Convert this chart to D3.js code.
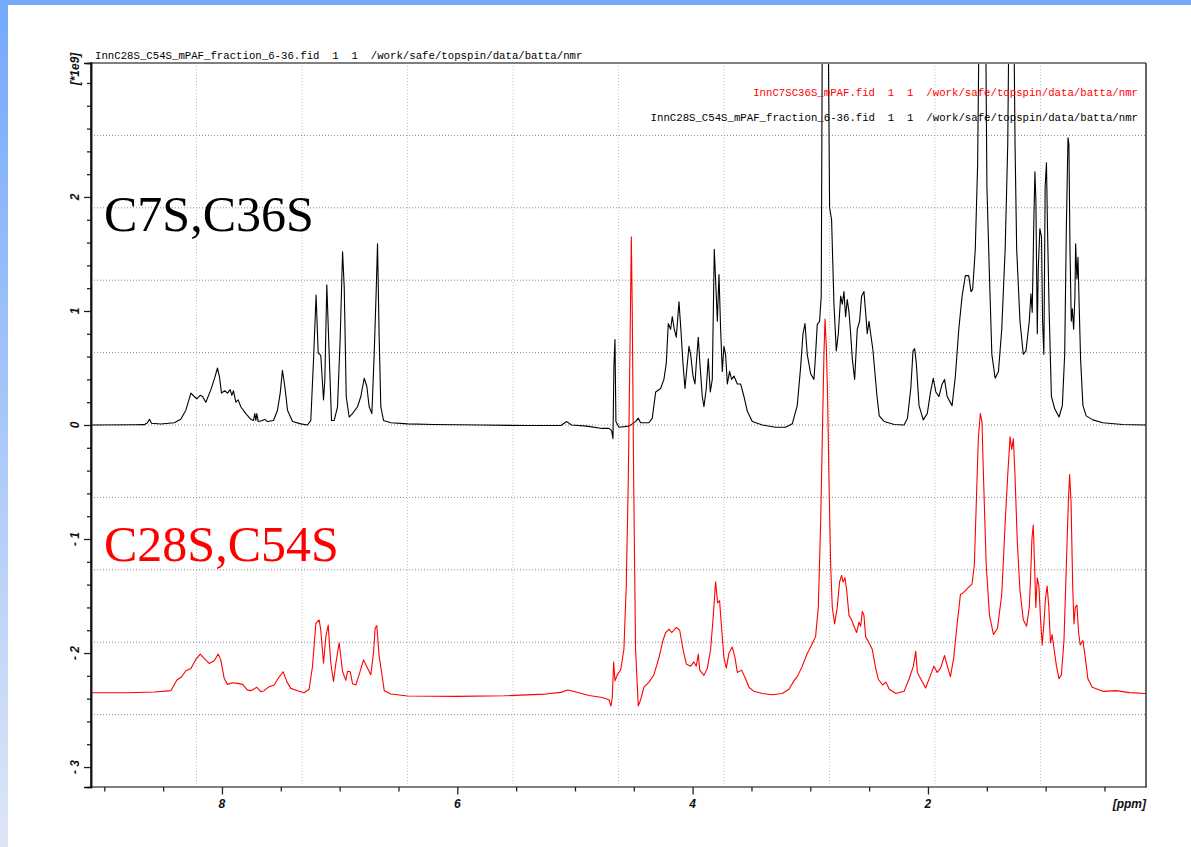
<!DOCTYPE html>
<html><head><meta charset="utf-8">
<script src="https://cdn.jsdelivr.net/npm/d3@7"></script>
<style>
html,body{margin:0;padding:0;background:#fff;overflow:hidden;}
svg{display:block;}
</style></head><body>
<svg id="c" width="1191" height="847"></svg>
<script>
// ---------- data ----------
const xDomain = [9.113, 0.147];          // ppm, left -> right
const yDomain = [-3.175, 3.175];         // intensity [*1e9]
const xMajorTicks = [8, 6, 4, 2];
const xMinorTicks = [9, 8.5, 7.5, 7, 6.5, 5.5, 5, 4.5, 3.5, 3, 2.5, 1.5, 1, 0.5];
const yMajorTicks = [-3, -2, -1, 0, 1, 2];
const yTickLabels = ["- 3", "- 2", "- 1", "0", "1", "2"];
const yUnitLabel = "[*1e9]";
const xUnitLabel = "[ppm]";
const headerText = "InnC28S_C54S_mPAF_fraction_6-36.fid  1  1  /work/safe/topspin/data/batta/nmr";
const legendRed = "InnC7SC36S_mPAF.fid  1  1  /work/safe/topspin/data/batta/nmr";
const legendBlack = "InnC28S_C54S_mPAF_fraction_6-36.fid  1  1  /work/safe/topspin/data/batta/nmr";
const labelBlack = "C7S,C36S";
const labelRed = "C28S,C54S";

// black spectrum [ppm, intensity*1e9]
const blackSpectrum = [
[9.113,0],[9.086,0],[8.75,0.002],[8.661,0.003],[8.633,0.02],[8.616,0.05],[8.599,0.015],[8.52,0.009],[8.406,0.02],[8.35,0.05],[8.307,0.13],[8.264,0.28],[8.236,0.25],[8.213,0.23],[8.185,0.26],[8.165,0.25],[8.137,0.2],[8.094,0.31],[8.06,0.42],[8.038,0.5],[8.021,0.42],[8.004,0.28],[7.976,0.3],[7.953,0.28],[7.93,0.31],[7.916,0.26],[7.902,0.3],[7.882,0.2],[7.862,0.22],[7.84,0.16],[7.797,0.1],[7.755,0.05],[7.732,0.04],[7.721,0.1],[7.712,0.04],[7.704,0.1],[7.692,0.03],[7.655,0.04],[7.636,0.05],[7.613,0.03],[7.562,0.04],[7.528,0.13],[7.505,0.28],[7.486,0.48],[7.466,0.34],[7.443,0.13],[7.4,0.03],[7.33,0.01],[7.273,0],[7.245,0.04],[7.222,0.57],[7.2,1.14],[7.182,0.63],[7.16,0.61],[7.137,0.22],[7.126,0.39],[7.109,1.23],[7.089,0.63],[7.069,0.04],[7.046,0.04],[7.018,0.16],[6.995,0.77],[6.975,1.52],[6.961,1.21],[6.944,0.25],[6.919,0.07],[6.891,0.1],[6.848,0.16],[6.82,0.25],[6.791,0.41],[6.769,0.34],[6.749,0.16],[6.726,0.1],[6.706,0.63],[6.69,1.15],[6.678,1.59],[6.664,0.77],[6.65,0.16],[6.627,0.04],[6.565,0.02],[6.423,0.01],[6.2,0.005],[5.8,0],[5.4,-0.005],[5.12,-0.005],[5.07,0.03],[5.03,0],[4.9,-0.01],[4.768,-0.03],
[4.711,-0.03],[4.688,-0.05],[4.677,-0.12],[4.669,0.51],[4.66,0.75],[4.652,0.03],[4.626,-0.02],[4.541,-0.01],[4.485,0.03],[4.462,0.06],[4.442,0.02],[4.371,0.02],[4.343,0.06],[4.314,0.29],[4.272,0.32],[4.244,0.4],[4.224,0.54],[4.207,0.89],[4.187,0.84],[4.173,0.95],[4.156,0.84],[4.139,0.77],[4.116,1.08],[4.1,0.84],[4.082,0.54],[4.065,0.32],[4.045,0.54],[4.031,0.69],[4.017,0.62],[3.997,0.43],[3.98,0.36],[3.969,0.54],[3.952,0.77],[3.938,0.54],[3.918,0.25],[3.904,0.16],[3.884,0.32],[3.867,0.58],[3.85,0.29],[3.833,0.4],[3.816,1.54],[3.805,1.28],[3.79,0.91],[3.776,1.32],[3.762,0.84],[3.748,0.47],[3.734,0.69],[3.72,0.62],[3.705,0.36],[3.686,0.47],[3.669,0.4],[3.649,0.43],[3.62,0.36],[3.592,0.36],[3.564,0.25],[3.535,0.12],[3.493,0.03],[3.408,0],[3.295,-0.02],[3.21,-0.02],[3.153,0.01],[3.111,0.17],[3.082,0.51],[3.062,0.8],[3.045,0.89],[3.026,0.62],[2.997,0.45],[2.969,0.4],[2.955,0.62],[2.941,0.88],[2.921,0.91],[2.907,1.13],[2.898,3.5],[2.885,5.2],[2.872,5.5],[2.86,5.0],[2.847,3.4],[2.836,1.91],[2.819,1.8],[2.799,1.06],[2.779,0.65],[2.762,0.8],[2.742,1.13],[2.728,1.06],[2.714,1.17],[2.7,0.95],[2.686,1.1],[2.671,0.99],[2.657,0.8],[2.643,0.58],[2.623,0.4],[2.601,0.84],[2.581,0.91],[2.564,1.13],[2.544,1.17],[2.53,0.99],[2.516,0.8],[2.501,0.91],[2.487,0.8],[2.468,0.66],[2.45,0.45],[2.433,0.25],[2.414,0.08],[2.371,0.03],[2.287,0.005],[2.203,0],[2.174,0.06],[2.146,0.32],[2.127,0.65],[2.113,0.67],[2.099,0.54],[2.076,0.17],[2.04,0.045],[2.006,0.1],[1.978,0.29],[1.955,0.41],[1.933,0.29],[1.907,0.25],[1.879,0.36],[1.859,0.4],[1.837,0.25],[1.795,0.17],[1.767,0.43],[1.738,0.84],[1.71,1.13],[1.682,1.31],[1.654,1.31],[1.634,1.17],[1.62,1.19],[1.598,1.54],[1.578,2.28],[1.561,4.0],[1.54,5.0],[1.513,4.0],[1.499,2.09],[1.479,1.36],[1.457,0.62],[1.429,0.41],[1.401,0.47],[1.373,0.84],[1.344,1.54],[1.322,2.46],[1.308,4.0],[1.29,5.0],[1.274,4.0],[1.26,2.46],[1.246,1.54],[1.218,0.91],[1.19,0.62],[1.167,0.65],[1.139,0.91],[1.125,1.15],[1.114,0.99],[1.1,1.8],[1.091,2.22],[1.083,1.98],[1.071,0.8],[1.063,1.36],[1.049,1.72],[1.035,1.65],[1.026,0.91],[1.015,0.62],[1.004,2.09],[0.993,2.3],[0.984,1.72],[0.97,0.99],[0.951,0.25],[0.922,0.14],[0.886,0.07],[0.858,0.17],[0.838,0.62],[0.824,1.72],[0.81,2.52],[0.802,2.46],[0.793,1.54],[0.782,0.91],[0.773,1.02],[0.762,0.84],[0.751,1.13],[0.745,1.59],[0.734,1.28],[0.725,1.47],[0.717,1.13],[0.703,0.58],[0.683,0.17],[0.655,0.08],[0.599,0.045],[0.514,0.02],[0.346,0.005],[0.147,0]
];

// red spectrum [ppm, intensity*1e9] (as displayed, with vertical offset)
const redSpectrum = [
[9.113,-2.348],[9.086,-2.348],[8.8,-2.348],[8.576,-2.342],[8.434,-2.33],[8.383,-2.237],[8.344,-2.21],[8.307,-2.155],[8.264,-2.135],[8.222,-2.056],[8.185,-2.009],[8.151,-2.047],[8.109,-2.091],[8.066,-2.067],[8.032,-2.009],[8.01,-2.06],[7.981,-2.222],[7.953,-2.275],[7.91,-2.26],[7.868,-2.266],[7.825,-2.275],[7.783,-2.325],[7.755,-2.33],[7.704,-2.301],[7.67,-2.339],[7.641,-2.33],[7.599,-2.295],[7.556,-2.281],[7.522,-2.222],[7.48,-2.164],[7.449,-2.251],[7.415,-2.31],[7.358,-2.33],[7.301,-2.348],[7.259,-2.318],[7.231,-2.12],[7.202,-1.74],[7.174,-1.71],[7.16,-1.8],[7.137,-2.09],[7.117,-1.857],[7.097,-1.754],[7.075,-2.09],[7.052,-2.25],[7.032,-2.09],[7.018,-2.0],[7.004,-1.91],[6.99,-2.03],[6.976,-2.16],[6.947,-2.24],[6.933,-2.16],[6.91,-2.164],[6.89,-2.27],[6.862,-2.28],[6.834,-2.19],[6.797,-2.06],[6.769,-2.12],[6.735,-2.19],[6.712,-2.0],[6.698,-1.78],[6.684,-1.76],[6.664,-2.03],[6.644,-2.164],[6.621,-2.33],[6.565,-2.36],[6.423,-2.377],[6.0,-2.38],[5.6,-2.375],[5.25,-2.36],[5.12,-2.345],[5.06,-2.325],[5.0,-2.34],[4.881,-2.373],[4.768,-2.39],[4.711,-2.41],[4.694,-2.465],[4.683,-2.39],[4.671,-2.078],[4.66,-2.244],[4.64,-2.19],[4.612,-2.15],[4.584,-1.967],[4.564,-1.41],[4.547,-0.49],[4.533,0.62],[4.521,1.65],[4.513,0.99],[4.501,-0.49],[4.485,-1.967],[4.462,-2.465],[4.442,-2.41],[4.414,-2.3],[4.371,-2.255],[4.329,-2.19],[4.286,-2.04],[4.252,-1.89],[4.229,-1.82],[4.201,-1.79],[4.178,-1.82],[4.139,-1.775],[4.11,-1.8],[4.082,-1.967],[4.054,-2.096],[4.017,-2.115],[3.989,-2.078],[3.969,-2.115],[3.952,-2.01],[3.94,-2.15],[3.904,-2.196],[3.875,-2.133],[3.847,-1.967],[3.827,-1.708],[3.805,-1.376],[3.788,-1.56],[3.771,-1.54],[3.754,-1.78],[3.734,-2.04],[3.714,-2.133],[3.691,-2.0],[3.663,-1.948],[3.64,-2.04],[3.62,-2.17],[3.584,-2.15],[3.55,-2.226],[3.521,-2.3],[3.479,-2.336],[3.408,-2.355],[3.323,-2.366],[3.238,-2.355],[3.181,-2.318],[3.139,-2.244],[3.111,-2.207],[3.068,-2.115],[3.026,-2.004],[2.989,-1.93],[2.955,-1.856],[2.932,-1.6],[2.912,-0.86],[2.898,-0.12],[2.884,0.62],[2.875,0.93],[2.864,0.69],[2.853,0.25],[2.841,-0.49],[2.827,-1.23],[2.813,-1.6],[2.793,-1.745],[2.771,-1.6],[2.751,-1.376],[2.734,-1.32],[2.722,-1.376],[2.705,-1.34],[2.691,-1.45],[2.671,-1.67],[2.649,-1.708],[2.629,-1.765],[2.606,-1.82],[2.586,-1.73],[2.572,-1.765],[2.558,-1.635],[2.544,-1.67],[2.53,-1.856],[2.501,-1.91],[2.473,-1.97],[2.445,-2.13],[2.422,-2.23],[2.386,-2.28],[2.357,-2.255],[2.329,-2.318],[2.273,-2.355],[2.203,-2.336],[2.16,-2.226],[2.124,-2.115],[2.104,-1.985],[2.09,-2.17],[2.062,-2.226],[2.02,-2.307],[1.983,-2.207],[1.949,-2.115],[1.921,-2.17],[1.893,-2.133],[1.859,-2.022],[1.831,-2.133],[1.809,-2.207],[1.781,-2.04],[1.752,-1.745],[1.724,-1.487],[1.696,-1.468],[1.662,-1.43],[1.626,-1.395],[1.606,-1.23],[1.589,-0.675],[1.572,-0.12],[1.555,0.1],[1.541,0.027],[1.527,-0.49],[1.505,-1.23],[1.477,-1.67],[1.443,-1.838],[1.409,-1.782],[1.373,-1.487],[1.344,-0.86],[1.322,-0.435],[1.302,-0.103],[1.288,-0.214],[1.274,-0.12],[1.26,-0.453],[1.24,-1.044],[1.218,-1.45],[1.19,-1.708],[1.162,-1.765],[1.139,-1.6],[1.128,-1.34],[1.117,-1.007],[1.105,-0.878],[1.094,-1.23],[1.083,-1.6],[1.071,-1.34],[1.057,-1.413],[1.043,-1.708],[1.029,-1.93],[1.015,-1.745],[1.001,-1.52],[0.987,-1.413],[0.973,-1.6],[0.959,-1.91],[0.945,-1.838],[0.928,-1.967],[0.908,-2.115],[0.886,-2.226],[0.866,-2.19],[0.844,-1.89],[0.824,-1.23],[0.807,-0.675],[0.796,-0.435],[0.784,-0.675],[0.77,-1.413],[0.759,-1.745],[0.748,-1.6],[0.734,-1.58],[0.72,-1.82],[0.706,-1.93],[0.683,-1.89],[0.663,-2.04],[0.641,-2.226],[0.604,-2.3],[0.514,-2.336],[0.402,-2.33],[0.289,-2.347],[0.147,-2.355]
];

// ---------- drawing ----------
const W = 1191, H = 847;
const frame = {left: 91, right: 1146, top: 63, bottom: 787};
const svg = d3.select("#c");

// slide background
const defs = svg.append("defs");
const lg = defs.append("linearGradient").attr("id","lbar").attr("x1",0).attr("y1",0).attr("x2",0).attr("y2",1);
lg.append("stop").attr("offset","0%").attr("stop-color","#74a9fb");
lg.append("stop").attr("offset","100%").attr("stop-color","#dde6f6");
svg.append("rect").attr("width",W).attr("height",H).attr("fill","#fff");
svg.append("rect").attr("x",0).attr("y",0).attr("width",8).attr("height",H).attr("fill","url(#lbar)");
svg.append("rect").attr("x",0).attr("y",0).attr("width",W).attr("height",5).attr("fill","#74a9fb");

const x = d3.scaleLinear().domain(xDomain).range([frame.left, frame.right]);
const y = d3.scaleLinear().domain(yDomain).range([frame.bottom, frame.top]);

defs.append("clipPath").attr("id","plotclip").append("rect")
  .attr("x",frame.left).attr("y",frame.top)
  .attr("width",frame.right-frame.left).attr("height",frame.bottom-frame.top);

// grid: 10 divisions of the frame
const gridX = d3.range(1,10).map(i => xDomain[0] + (xDomain[1]-xDomain[0])*i/10);
const gridY = d3.range(1,10).map(i => yDomain[0] + (yDomain[1]-yDomain[0])*i/10);
svg.append("g").selectAll("line").data(gridX).join("line")
  .attr("x1",d=>x(d)).attr("x2",d=>x(d)).attr("y1",frame.top).attr("y2",frame.bottom)
  .attr("stroke","#c4c4c4").attr("stroke-width",1).attr("stroke-dasharray","1,2");
svg.append("g").selectAll("line").data(gridY).join("line")
  .attr("x1",frame.left).attr("x2",frame.right).attr("y1",d=>y(d)).attr("y2",d=>y(d))
  .attr("stroke","#8a8a8a").attr("stroke-width",1).attr("stroke-dasharray","1,2");

// spectra
const line = d3.line().x(d=>x(d[0])).y(d=>y(d[1]));
const plot = svg.append("g").attr("clip-path","url(#plotclip)");
plot.append("path").datum(blackSpectrum).attr("d",line)
  .attr("fill","none").attr("stroke","#000").attr("stroke-width",1.1).attr("stroke-linejoin","round");
plot.append("path").datum(redSpectrum).attr("d",line)
  .attr("fill","none").attr("stroke","#ff0000").attr("stroke-width",1.1).attr("stroke-linejoin","round");

// frame
svg.append("line").attr("x1",frame.left).attr("x2",frame.right).attr("y1",frame.top).attr("y2",frame.top)
  .attr("stroke","#7f7f7f").attr("stroke-width",2);
svg.append("line").attr("x1",frame.left).attr("x2",frame.right+1).attr("y1",frame.bottom).attr("y2",frame.bottom)
  .attr("stroke","#7f7f7f").attr("stroke-width",2);
svg.append("line").attr("x1",frame.right).attr("x2",frame.right).attr("y1",frame.top).attr("y2",frame.bottom)
  .attr("stroke","#333").attr("stroke-width",1.5);

// y axis (ticks outward to the left)
const yMinor = d3.range(-30,31,2).map(v=>v/10).filter(v=>!yMajorTicks.includes(v));
const yAxisMinor = d3.axisLeft(y).tickValues(yMinor).tickSize(4).tickFormat("");
const yAxisMajor = d3.axisLeft(y).tickValues(yMajorTicks).tickSize(7).tickFormat("");
const gy1 = svg.append("g").attr("transform",`translate(${frame.left},0)`).call(yAxisMinor);
const gy2 = svg.append("g").attr("transform",`translate(${frame.left},0)`).call(yAxisMajor);
[gy1,gy2].forEach(g=>{
  g.select(".domain").attr("stroke","#111").attr("stroke-width",1.5);
  g.selectAll(".tick line").attr("stroke","#222").attr("stroke-width",1.3);
});
const sans = "'Liberation Sans', Arial, sans-serif";
svg.append("g").selectAll("text").data(yMajorTicks).join("text")
  .attr("transform",(d)=>`translate(75,${y(d)}) rotate(-90)`)
  .attr("text-anchor","middle").attr("dominant-baseline","central")
  .style("font-family",sans).style("font-style","italic").style("font-weight","bold")
  .style("font-size","12px").attr("fill","#111")
  .text((d,i)=>yTickLabels[i]);
svg.append("text").attr("transform","translate(75,69) rotate(-90)")
  .attr("text-anchor","middle").attr("dominant-baseline","central")
  .style("font-family",sans).style("font-style","italic").style("font-weight","bold")
  .style("font-size","12px").attr("fill","#111").text(yUnitLabel);

// x axis (ticks outward, below)
const xAxisMinor = d3.axisBottom(x).tickValues(xMinorTicks).tickSize(4.5).tickFormat("");
const xAxisMajor = d3.axisBottom(x).tickValues(xMajorTicks).tickSize(7.5).tickFormat("");
const gx1 = svg.append("g").attr("transform",`translate(0,${frame.bottom})`).call(xAxisMinor);
const gx2 = svg.append("g").attr("transform",`translate(0,${frame.bottom})`).call(xAxisMajor);
[gx1,gx2].forEach(g=>{
  g.select(".domain").remove();
  g.selectAll(".tick line").attr("stroke","#222").attr("stroke-width",1.3);
});
svg.append("g").selectAll("text").data(xMajorTicks).join("text")
  .attr("x",d=>x(d)).attr("y",808).attr("text-anchor","middle")
  .style("font-family",sans).style("font-style","italic").style("font-weight","bold")
  .style("font-size","12px").attr("fill","#111").text(d=>d);
svg.append("text").attr("x",frame.right).attr("y",808).attr("text-anchor","end")
  .style("font-family",sans).style("font-style","italic").style("font-weight","bold")
  .style("font-size","12px").attr("fill","#111").text(xUnitLabel);

// left axis line on top
svg.append("line").attr("x1",frame.left).attr("x2",frame.left).attr("y1",frame.top-1).attr("y2",frame.bottom+1)
  .attr("stroke","#111").attr("stroke-width",1.5);

// header & legend texts
const mono = "'Liberation Mono', 'DejaVu Sans Mono', monospace";
svg.append("text").attr("x",95).attr("y",59).style("white-space","pre")
  .style("font-family",mono).style("font-size","10.7px").attr("fill","#000").text(headerText);
svg.append("text").attr("x",1138).attr("y",96).attr("text-anchor","end").style("white-space","pre")
  .style("font-family",mono).style("font-size","10.7px").attr("fill","#ff0000").text(legendRed);
svg.append("text").attr("x",1138).attr("y",121).attr("text-anchor","end").style("white-space","pre")
  .style("font-family",mono).style("font-size","10.7px").attr("fill","#000").text(legendBlack);

// big sample labels
const serif = "'Liberation Serif', 'Times New Roman', serif";
svg.append("text").attr("x",104).attr("y",231)
  .style("font-family",serif).style("font-size","50px").attr("fill","#000").text(labelBlack);
svg.append("text").attr("x",104).attr("y",561)
  .style("font-family",serif).style("font-size","50px").attr("fill","#ff0000").text(labelRed);
</script>
</body></html>
